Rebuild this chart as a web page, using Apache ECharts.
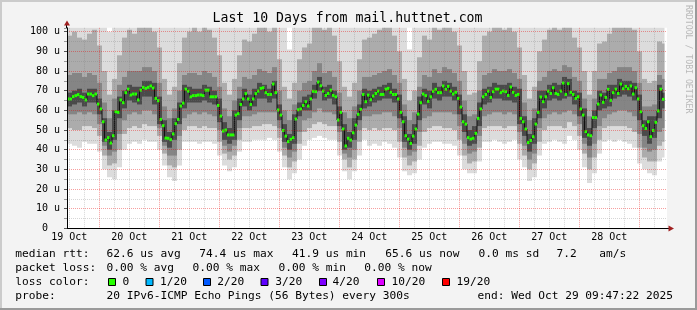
<!DOCTYPE html>
<html><head><meta charset="utf-8">
<script src="https://cdn.jsdelivr.net/npm/echarts@6/dist/echarts.min.js"></script>
<style>html,body{margin:0;padding:0;background:#f3f3f3}#c{width:697px;height:310px}</style>
</head><body><div id="c"></div>
<script>
// ---------- data ----------
const titleText = 'Last 10 Days from mail.huttnet.com';
const dayLabels = ['19 Oct','20 Oct','21 Oct','22 Oct','23 Oct','24 Oct','25 Oct','26 Oct','27 Oct','28 Oct'];
const yTickLabels = ['0  ','10 u','20 u','30 u','40 u','50 u','60 u','70 u','80 u','90 u','100 u'];

// hourly median rtt (us), 239 steps
const median = [
65.8,65.8,67,67.5,68,67,66.6,65.3,68.3,68.3,
67.5,68.3,63.2,60.7,54.2,44.9,46.1,43.4,47.1,59.3,
59,65.3,63.9,69,70.8,67.8,68.3,68.3,65.3,70.3,
71.7,71.2,71.7,72.4,71.4,66.1,64.9,55.4,52.2,45.9,
45.8,45.1,48,53.2,55.4,62.2,63.7,70.8,69.8,66.9,
67.5,67.5,67.8,67.8,67.5,70.3,70.3,66.9,66.9,66.9,
62.5,57.1,49.5,50,47.5,47.5,47.5,57.6,58.3,63,
65.8,68.5,65.8,63,65.8,68.5,69.8,71.2,71.5,69,
68.1,68.1,73.4,69,60.2,57.6,49.8,46.9,44.1,45.3,
46.1,55.6,60.3,60.7,62.5,64.4,62.2,65.8,69.7,69.5,
74.4,72.5,69.8,67.6,68.6,70.3,67.6,66.9,55.1,59,
50.5,41.9,45.8,44.9,48.6,52.5,58,60.5,68.1,64.4,
67.8,65.4,67.3,68.6,69.8,68.1,68.1,70.8,71.2,69.2,
68.1,68.1,65.8,59,54.2,47.1,45.4,43.2,46.9,50.5,
58.1,63.9,68.3,67.5,64.6,66.9,69.7,70.7,69,69,
72.4,70.7,72.2,69.8,68.3,69.2,66.1,61.7,54.2,53,
46.1,45.4,45.8,48.3,55.9,60.7,66.9,68.1,69.8,66.6,
69.5,70.8,70.8,69,69.8,69.5,67.6,71.9,69.2,67.6,
68.1,55.9,54.2,50.5,43.6,44.7,46.6,53,59,66.8,
64.4,66.9,69.8,68.6,71.5,68.6,68.1,69.8,73.9,68.1,
73.6,69.2,68.1,66.1,66.9,60.7,57.6,49.2,47.5,47.1,
56.4,56.3,63.2,67.8,64.1,66.6,70.7,65.1,69,70.8,
68.6,73.4,71,72.2,71,72.4,68.3,71.5,65.8,59.3,
52.2,50.8,54.2,46.6,49.8,53.9,59.7,70.8,65.6
];

// smoke (ping spread), 2-hour bins, 120 bins: outer -> inner band limits
const smokeLo1 = [
43,42,41,44,43,43,39,30,26,25, 31,40,43,44,43,45,44,44,40,32,
26,24,32,44,44,44,43,44,44,43, 37,32,29,31,39,44,44,45,45,45,
46,45,39,31,25,28,35,42,45,46, 47,46,45,45,37,29,25,29,37,45,
42,43,42,44,43,41,36,29,27,28, 35,41,43,44,44,43,43,42,37,30,
28,28,34,44,44,45,44,43,44,45, 35,31,24,26,37,43,44,45,44,43,
47,45,40,31,23,28,38,44,45,44, 45,44,43,41,33,30,28,27,34,36];
const smokeLo2 = [
51,50,50,52,52,51,47,37,32,33, 40,48,51,52,51,53,52,52,47,38,
32,31,40,50,52,52,51,52,51,51, 44,38,35,37,45,51,51,52,52,53,
53,52,46,37,31,34,43,49,51,53, 54,53,52,52,44,35,31,35,44,51,
50,51,50,51,51,50,44,36,32,34, 42,49,51,52,52,51,51,50,45,37,
33,34,41,51,52,52,52,51,52,52, 43,37,30,33,44,50,52,52,52,51,
54,52,47,38,30,36,45,51,52,52, 52,52,51,49,41,36,34,34,42,44];
const smokeLo3 = [
58,58,59,58,59,58,53,42,37,39, 48,55,58,59,58,60,60,58,51,42,
37,37,47,56,58,59,58,59,58,57, 50,42,39,42,51,57,57,58,59,59,
59,59,51,41,36,39,49,55,56,59, 61,59,59,58,49,38,36,40,50,57,
57,58,58,59,59,57,51,41,37,39, 49,56,57,59,59,59,59,58,52,43,
38,39,47,57,58,59,59,58,59,58, 49,42,35,38,51,56,58,59,58,59,
60,58,53,43,36,43,52,56,58,59, 60,60,59,57,48,41,39,40,49,51];
const smokeLo4 = [
62,63,64,62,64,64,58,44,40,45, 56,61,65,64,63,67,67,63,53,44,
41,45,53,61,64,64,64,65,64,63, 54,45,43,45,55,62,60,62,66,66,
64,66,55,44,40,43,57,60,60,66, 70,65,66,63,52,40,41,45,55,61,
62,64,65,66,66,64,56,44,40,43, 55,63,61,66,65,67,67,65,58,49,
42,43,52,63,64,66,66,65,65,64, 53,47,39,43,56,61,65,66,65,66,
67,63,57,46,42,51,60,61,62,66, 67,68,67,65,55,47,43,46,56,61];
const smokeHi4 = [
69,70,71,69,71,71,66,56,49,60, 67,70,73,72,72,75,75,74,67,55,
49,56,64,73,72,71,71,73,72,70, 66,54,51,60,66,71,68,71,74,73,
71,75,63,53,48,58,64,67,68,73, 77,72,73,70,62,53,49,56,63,71,
70,71,72,73,74,71,68,57,48,53, 67,71,70,74,72,75,74,72,68,58,
50,52,64,71,72,74,73,73,74,72, 71,57,48,56,70,70,73,74,73,77,
76,70,69,61,51,60,70,69,73,73, 76,75,75,74,68,55,57,57,73,69];
const smokeHi3 = [
78,79,79,77,79,78,74,64,56,66, 73,77,80,80,80,82,82,80,74,62,
56,61,70,78,79,79,78,80,79,77, 72,61,57,65,72,77,76,78,81,80,
79,82,70,60,55,63,70,74,75,80, 84,79,80,77,69,59,56,62,70,77,
77,78,79,80,81,78,74,63,55,59, 72,78,77,81,79,82,81,79,75,65,
57,58,70,78,79,81,80,80,81,79, 76,64,55,61,75,77,80,81,80,83,
82,77,75,66,57,66,76,76,79,80, 82,82,82,80,74,62,62,63,78,76];
const smokeHi2 = [
98,100,97,96,99,101,93,80,68,76, 88,97,101,99,102,104,104,100,92,76,
68,72,84,97,100,102,100,103,101,97, 88,74,68,76,88,96,95,99,103,104,
100,104,86,72,66,74,86,92,94,102, 105,101,102,98,85,72,67,74,86,96,
97,99,101,102,103,98,90,76,65,70, 87,98,96,103,101,104,103,100,93,80,
68,69,85,98,100,103,102,101,103,100, 92,78,66,72,90,96,101,103,101,104,
104,97,92,80,68,80,94,95,99,102, 104,104,104,101,90,76,74,75,95,94];
const smokeHi1 = [
110,110,110,110,110,110,110,110,100,110, 110,110,110,110,110,110,110,110,110,110,
110,110,110,110,110,110,110,110,110,110, 110,110,110,110,110,110,110,110,110,110,
110,110,110,110,91,110,110,110,110,110, 110,110,110,110,110,110,110,110,110,110,
110,110,110,110,110,110,110,110,91,110, 110,110,110,110,110,110,110,110,110,110,
110,110,110,110,110,110,110,110,110,110, 110,110,110,110,110,110,110,110,110,110,
110,110,110,110,110,110,110,110,110,110, 110,110,110,110,110,110,110,110,110,110];

// legend texts
const rttLabel = 'median rtt:';
const rttValues = ['62.6 us avg','74.4 us max','41.9 us min','65.6 us now','0.0 ms sd','7.2','am/s'];
const lossLabel = 'packet loss:';
const lossValues = ['0.00 % avg','0.00 % max','0.00 % min','0.00 % now'];
const lossColorLabel = 'loss color:';
const lossColorNames = ['0','1/20','2/20','3/20','4/20','10/20','19/20'];
const lossColors = ['#26ff00','#00b8ff','#0059ff','#5e00ff','#7e00ff','#dd00ff','#ff0000'];
const probeLabel = 'probe:';
const probeText = '20 IPv6-ICMP Echo Pings (56 Bytes) every 300s';
const endText = 'end: Wed Oct 29 09:47:22 2025';
const sideText = 'RRDTOOL / TOBI OETIKER';

// ---------- chart ----------
const MONO = "'DejaVu Sans Mono', monospace";
const Y_MAX = 102;
const X_MAX = 240;
const nHours = median.length;
const RED = 'rgba(235,0,0,0.38)';
const GRAY = 'rgba(120,120,120,0.3)';
const smokeColors = ['#dcdcdc', '#acacac', '#858585', '#4a4a4a'];
const PLOT_TOP = 27.8, PLOT_H = 200.5, PLOT_L = 67, PLOT_R = 667;
const PX_PER_H = 2.5;

const smokeRows = smokeLo1.map((_, i) => [i * 2, smokeLo1[i], smokeLo2[i], smokeLo3[i], smokeLo4[i],
  smokeHi4[i], smokeHi3[i], smokeHi2[i], smokeHi1[i]]);

function smokeItem(params, api) {
  const t0 = api.value(0);
  const t1 = Math.min(t0 + 2, nHours);
  const x0 = api.coord([t0, 0])[0];
  const x1 = api.coord([t1, 0])[0];
  const children = [];
  for (let k = 0; k < 4; k++) {
    const lo = api.value(1 + k);
    const hi = Math.min(api.value(8 - k), Y_MAX);
    const yl = api.coord([t0, lo])[1];
    const yh = api.coord([t0, hi])[1];
    children.push({type: 'rect', shape: {x: x0, y: yh, width: x1 - x0, height: yl - yh},
      style: {fill: smokeColors[k]}});
  }
  return {type: 'group', children};
}

function medItem(params, api) {
  const t = api.value(0), v = api.value(1);
  const p0 = api.coord([t, v]);
  const p1 = api.coord([t + 1, v]);
  return {type: 'rect', shape: {x: p0[0], y: p0[1] - 1.5, width: p1[0] - p0[0], height: 3},
    style: {fill: lossColors[0]}};
}

function txt(x, y, text, size, align) {
  return {type: 'text', x: x, y: y, silent: true,
    style: {text: text, fontFamily: MONO, fontSize: size, fill: '#000',
      textAlign: align || 'left', align: align || 'left', textVerticalAlign: 'middle', verticalAlign: 'middle'}};
}

const graphics = [
  {type: 'rect', shape: {x: 0, y: 0, width: 697, height: 2}, style: {fill: '#cbcbcb'}, silent: true},
  {type: 'rect', shape: {x: 0, y: 0, width: 2, height: 310}, style: {fill: '#cbcbcb'}, silent: true},
  {type: 'rect', shape: {x: 0, y: 308, width: 697, height: 2}, style: {fill: '#9a9a9a'}, silent: true},
  {type: 'rect', shape: {x: 695, y: 0, width: 2, height: 310}, style: {fill: '#9a9a9a'}, silent: true},
  {type: 'line', shape: {x1: 66.5, y1: 28.5, x2: 66.5, y2: 24}, style: {stroke: '#000', lineWidth: 1}, silent: true},
  {type: 'polygon', shape: {points: [[64, 25.5], [70, 25.5], [67, 20.5]]}, style: {fill: '#a02020'}, silent: true},
  {type: 'line', shape: {x1: 666, y1: 228.5, x2: 669, y2: 228.5}, style: {stroke: '#000', lineWidth: 1}, silent: true},
  {type: 'polygon', shape: {points: [[668.5, 225.5], [668.5, 231.5], [674, 228.5]]}, style: {fill: '#a02020'}, silent: true},
  txt(347.5, 19, titleText, 13.2, 'center'),
  {type: 'text', x: 688.5, y: 5, rotation: -Math.PI / 2, silent: true,
    style: {text: sideText, fontFamily: MONO, fontSize: 8.2, fill: '#b8b8b8',
      textAlign: 'left', align: 'left', textVerticalAlign: 'middle', verticalAlign: 'middle'}}
];

const FS = 11.2;
const rttX = [106.6, 199.3, 292, 385.3, 478.6, 556.6, 599.3];
graphics.push(txt(15.3, 254.5, rttLabel, FS));
rttValues.forEach((s, i) => graphics.push(txt(rttX[i], 254.5, s, FS)));
const lossX = [106.6, 192.6, 278.6, 364.3];
graphics.push(txt(15.3, 268, lossLabel, FS));
lossValues.forEach((s, i) => graphics.push(txt(lossX[i], 268, s, FS)));
const boxX = [108.5, 146, 203.5, 261, 319.5, 377.5, 442.5];
const boxLabelX = [122.6, 160, 217.3, 275.3, 332.6, 391.6, 456.6];
graphics.push(txt(15.3, 282.2, lossColorLabel, FS));
lossColorNames.forEach((s, i) => {
  graphics.push({type: 'rect', shape: {x: boxX[i], y: 278.5, width: 7, height: 7},
    style: {fill: lossColors[i], stroke: '#000', lineWidth: 1}, silent: true});
  graphics.push(txt(boxLabelX[i], 282.2, s, FS));
});
graphics.push(txt(15.3, 296.3, probeLabel, FS));
graphics.push(txt(106.6, 296.3, probeText, FS));
graphics.push(txt(477.6, 296.3, endText, FS));

// vertical grid layers: hour offsets (from data start) of the first line in each layer, every 24 h
const vGridOffsets = [0.9, 6.9, 18.9, 12.9];      // last one is the red day line
const grids = [{left: PLOT_L, top: PLOT_TOP, width: PLOT_R - PLOT_L, height: PLOT_H, show: true,
  backgroundColor: '#ffffff', borderWidth: 0, containLabel: false}];
const xAxes = [{gridIndex: 0, type: 'value', min: 0, max: X_MAX, z: 6,
  axisLine: {show: true, onZero: false, lineStyle: {color: '#000', width: 1}},
  axisTick: {show: false}, axisLabel: {show: false}, splitLine: {show: false}}];
const yAxes = [{gridIndex: 0, type: 'value', min: 0, max: Y_MAX, interval: 10, z: 6,
  axisLine: {show: true, lineStyle: {color: '#000', width: 1}},
  axisTick: {show: true, length: 3, lineStyle: {color: '#555'}},
  axisLabel: {show: true, margin: 7, fontFamily: MONO, fontSize: 10, color: '#000',
    showMinLabel: true, showMaxLabel: false,
    formatter: v => (v % 10 === 0 && yTickLabels[v / 10] !== undefined) ? yTickLabels[v / 10] : ''},
  splitLine: {show: true, showMinLine: false, showMaxLine: false,
    lineStyle: {color: RED, type: [1, 1], width: 1}}}];

vGridOffsets.forEach((off, k) => {
  const left = PLOT_L + off * PX_PER_H;
  const gi = grids.length;
  grids.push({left: left, top: PLOT_TOP, width: PLOT_R - left, height: PLOT_H, show: false, containLabel: false});
  const isRed = k === 3;
  xAxes.push({gridIndex: gi, type: 'value', min: 0, max: X_MAX - off, interval: 24, z: isRed ? 5 : 4,
    axisLine: {show: false}, axisTick: {show: false},
    axisLabel: k === 0 ? {show: true, showMinLabel: true, showMaxLabel: false, margin: 4.5,
      fontFamily: MONO, fontSize: 10, color: '#000',
      formatter: v => (v % 24 === 0 && dayLabels[v / 24]) ? dayLabels[v / 24] : ''} : {show: false},
    splitLine: {show: true, showMinLine: true, showMaxLine: false,
      lineStyle: {color: isRed ? RED : GRAY, type: [1, 1], width: 1}}});
  yAxes.push({gridIndex: gi, type: 'value', min: 0, max: Y_MAX, show: false});
});

// horizontal minor lines at 5, 15, ... 95 (grid starting 5 units above zero)
{
  const gi = grids.length;
  const h5 = PLOT_H * 5 / Y_MAX;
  grids.push({left: PLOT_L, top: PLOT_TOP, width: PLOT_R - PLOT_L, height: PLOT_H - h5, show: false, containLabel: false});
  xAxes.push({gridIndex: gi, type: 'value', min: 0, max: X_MAX, show: false});
  yAxes.push({gridIndex: gi, type: 'value', min: 0, max: Y_MAX - 5, interval: 10, z: 4,
    axisLine: {show: false}, axisLabel: {show: false},
    axisTick: {show: true, length: 3, lineStyle: {color: '#999'}},
    splitLine: {show: true, showMinLine: true, showMaxLine: false,
      lineStyle: {color: GRAY, type: [1, 1], width: 1}}});
}

const chart = echarts.init(document.getElementById('c'), null, {renderer: 'canvas', width: 697, height: 310});
chart.setOption({
  animation: false,
  backgroundColor: '#f3f3f3',
  grid: grids,
  xAxis: xAxes,
  yAxis: yAxes,
  series: [
    {type: 'custom', xAxisIndex: 0, yAxisIndex: 0, z: 1, silent: true,
      renderItem: smokeItem, data: smokeRows, encode: {x: 0, y: [1, 8]}},
    {type: 'line', xAxisIndex: 0, yAxisIndex: 0, z: 2, silent: true, step: 'middle',
      showSymbol: false, symbol: 'none', lineStyle: {color: '#111', width: 1},
      data: median.map((v, i) => [i + 0.5, v])},
    {type: 'custom', xAxisIndex: 0, yAxisIndex: 0, z: 3, silent: true,
      renderItem: medItem, data: median.map((v, i) => [i, v]), encode: {x: 0, y: 1}}
  ],
  graphic: graphics
});
</script>
</body></html>
